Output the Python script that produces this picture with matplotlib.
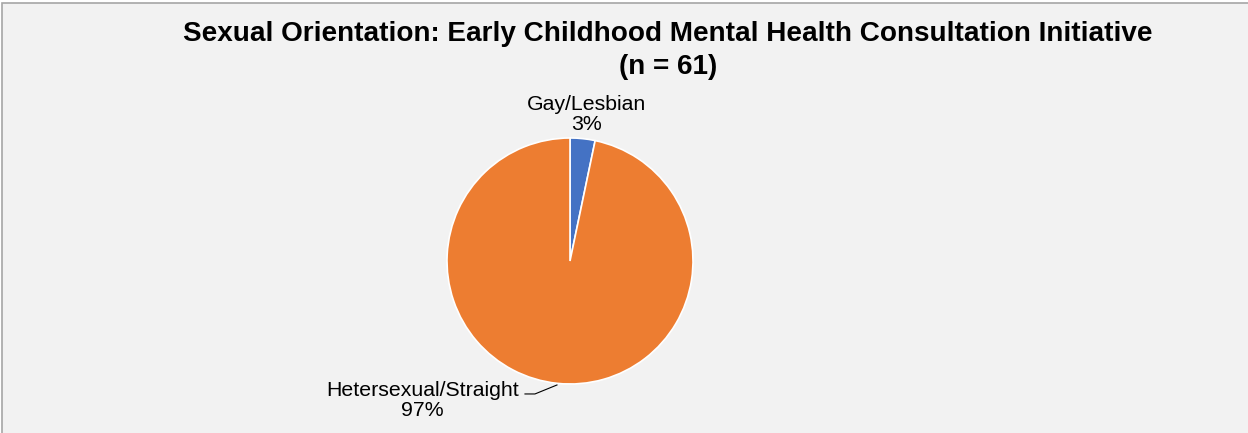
import numpy as np
import matplotlib.pyplot as plt
from matplotlib.patches import Rectangle

plt.rcParams['font.family'] = ['Liberation Sans', 'DejaVu Sans']

# data
categories = ['Gay/Lesbian', 'Hetersexual/Straight']
counts = [2, 59]
pct_labels = ['3%', '97%']
colors = ['#4472C4', '#ED7D31']

W, H = 1248, 433
fig = plt.figure(figsize=(W / 100, H / 100), dpi=100)
fig.patch.set_facecolor('white')

# chart area frame (cropped at right/bottom in the reference)
fig.patches.append(Rectangle((2 / W, -0.1), 1.2, (H - 3) / H + 0.1,
                             transform=fig.transFigure, facecolor='#f2f2f2',
                             edgecolor='#a6a6a6', linewidth=1.2, zorder=-5))

fig.text(668 / W, 1 - 34 / H, 'Sexual Orientation: Early Childhood Mental Health Consultation Initiative',
         ha='center', va='center', fontsize=20.1, fontweight='bold')
fig.text(668 / W, 1 - 67 / H, '(n = 61)', ha='center', va='center',
         fontsize=20.1, fontweight='bold')

cx, cy, r = 570, 261, 123
ax = fig.add_axes([(cx - r) / W, (H - cy - r) / H, 2 * r / W, 2 * r / H])
ax.pie(counts, colors=colors, startangle=90, counterclock=False,
       wedgeprops=dict(edgecolor='white', linewidth=1.2))
ax.set_xlim(-1, 1)
ax.set_ylim(-1, 1)
ax.set_aspect('equal')
ax.axis('off')

ax.text(0.138, 1.19, categories[0] + '\n' + pct_labels[0], ha='center', va='center',
        fontsize=15.3, linespacing=1.05, clip_on=False)
ax.text(-1.199, -1.134, categories[1] + '\n' + pct_labels[1], ha='center', va='center',
        fontsize=15.3, linespacing=1.05, clip_on=False)
ax.plot([-0.366, -0.285, -0.106], [-1.081, -1.081, -1.008], color='black',
        linewidth=0.8, clip_on=False)

fig.savefig('out.png', dpi=100)
